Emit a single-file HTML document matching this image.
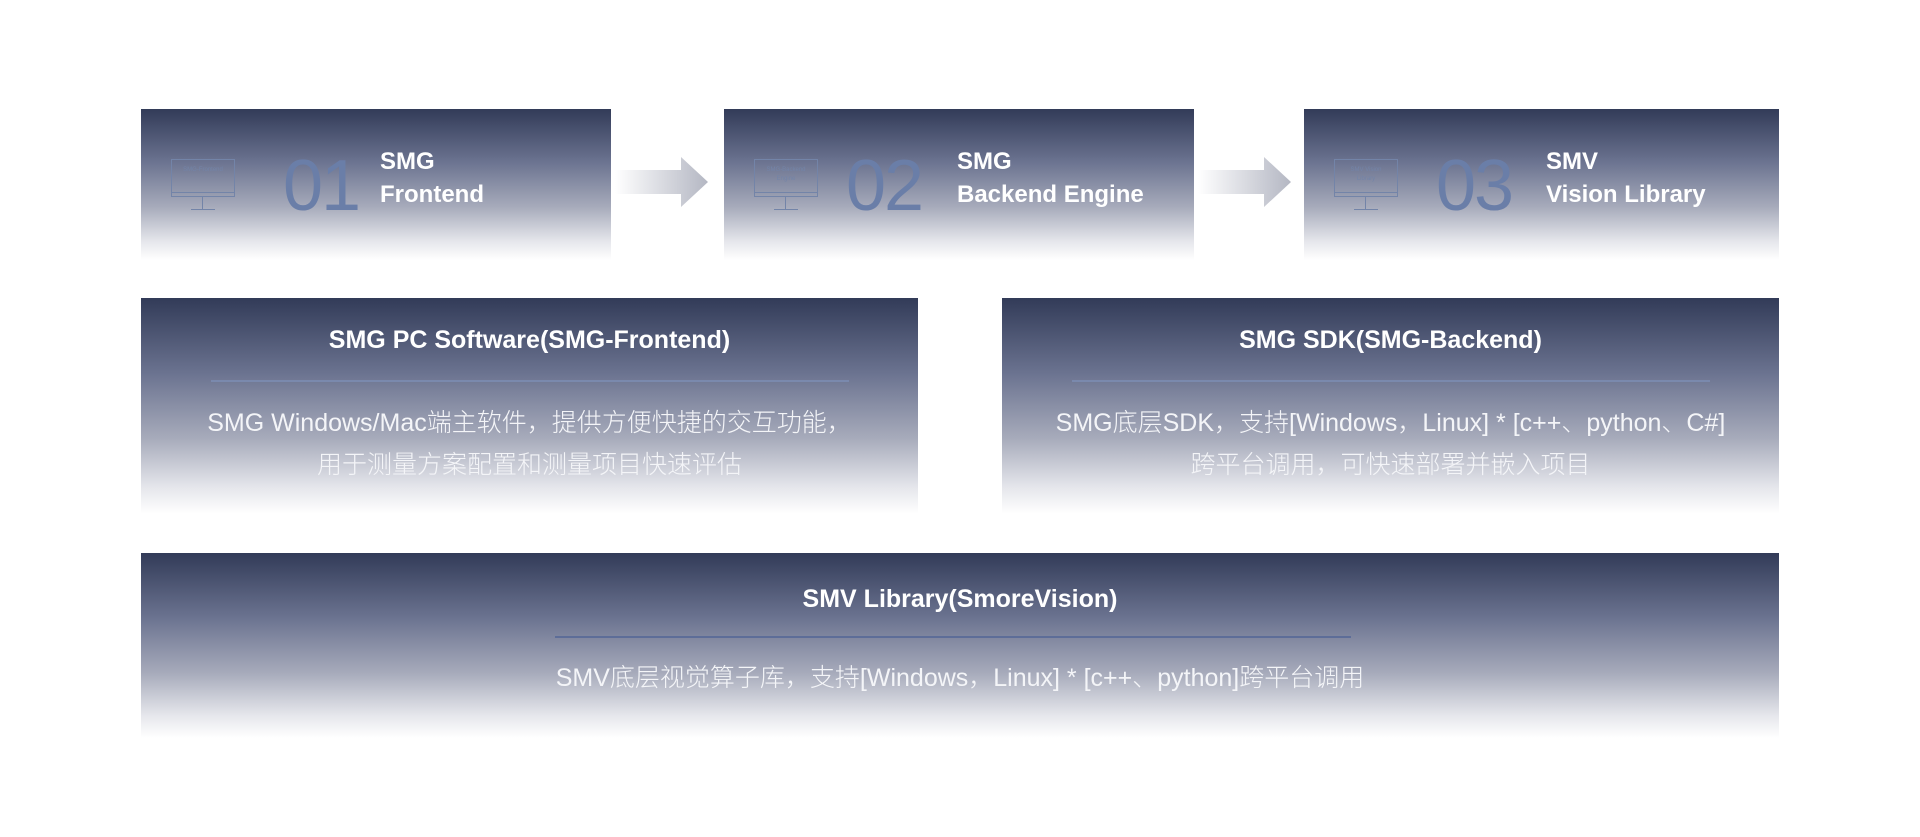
<!DOCTYPE html>
<html><head><meta charset="utf-8"><style>
body{margin:0;width:1920px;height:837px;background:#fff;position:relative;overflow:hidden;font-family:"Liberation Sans","Noto Sans CJK SC",sans-serif;}
.b{position:absolute;background:linear-gradient(to bottom,#323b58 0%,#6b7390 35%,#a7abbb 65%,#e6e7ec 88%,#ffffff 100%);color:#fff;}
.num{position:absolute;font-size:72px;color:#6a7ea8;top:36px;letter-spacing:-2px;font-family:"Liberation Sans",sans-serif;}
.t{position:absolute;font-size:24px;line-height:33px;top:36px;font-weight:600;}
.mon{position:absolute;left:30px;top:50px;width:64px;height:38px;border:1.5px solid #7384a8;font-size:6px;color:#7384a8;text-align:center;line-height:9px;padding-top:6px;box-sizing:border-box;}
.mon:after{content:"";position:absolute;left:-1px;right:-1px;bottom:3px;border-top:1.5px solid #7384a8;}
.st{position:absolute;left:30px;top:88px;width:64px;height:14px;}
.st:before{content:"";position:absolute;left:31px;top:0;height:12px;border-left:1.5px solid #7384a8;}
.st:after{content:"";position:absolute;left:20px;top:12px;width:24px;border-top:1.5px solid #7384a8;}
.arr{position:absolute;top:157px;width:93px;height:50px;}
.h{position:absolute;left:0;right:0;text-align:center;font-size:25px;font-weight:600;}
.ln{position:absolute;height:2px;background:#7a89ad;z-index:2;}
.p{position:absolute;left:0;right:0;text-align:center;font-size:25px;line-height:42px;font-weight:300;color:#f4f5f8;}
</style></head><body>
<div class="b" style="left:141px;top:109px;width:470px;height:151px">
<div class="mon">SMG-Frontend</div><div class="st"></div>
<div class="num" style="left:142px">01</div><div class="t" style="left:239px">SMG<br>Frontend</div></div>
<div class="b" style="left:724px;top:109px;width:470px;height:151px">
<div class="mon">SMG-Backend<br>Engine</div><div class="st"></div>
<div class="num" style="left:122px">02</div><div class="t" style="left:233px">SMG<br>Backend Engine</div></div>
<div class="b" style="left:1304px;top:109px;width:475px;height:151px">
<div class="mon">SMV Vision<br>Library</div><div class="st"></div>
<div class="num" style="left:132px">03</div><div class="t" style="left:242px">SMV<br>Vision Library</div></div>
<svg class="arr" style="left:615px" viewBox="0 0 93 50"><defs><linearGradient id="g" x1="0" x2="1"><stop offset="0" stop-color="#fff"/><stop offset="1" stop-color="#b4b7c3"/></linearGradient></defs><polygon points="0,13 66,13 66,0 93,25 66,50 66,37 0,37" fill="url(#g)"/></svg>
<svg class="arr" style="left:1198px" viewBox="0 0 93 50"><polygon points="0,13 66,13 66,0 93,25 66,50 66,37 0,37" fill="url(#g)"/></svg>
<div class="b" style="left:141px;top:298px;width:777px;height:216px">
<div class="h" style="top:28px">SMG PC Software(SMG-Frontend)</div>
<div class="ln" style="left:70px;width:638px;top:82px"></div>
<div class="p" style="top:104px">SMG Windows/Mac端主软件，提供方便快捷的交互功能，<br>用于测量方案配置和测量项目快速评估</div></div>
<div class="b" style="left:1002px;top:298px;width:777px;height:216px">
<div class="h" style="top:28px">SMG SDK(SMG-Backend)</div>
<div class="ln" style="left:70px;width:638px;top:82px"></div>
<div class="p" style="top:104px">SMG底层SDK，支持[Windows，Linux] * [c++、python、C#]<br>跨平台调用，可快速部署并嵌入项目</div></div>
<div class="b" style="left:141px;top:553px;width:1638px;height:185px">
<div class="h" style="top:32px">SMV Library(SmoreVision)</div>
<div class="ln" style="left:414px;width:796px;top:83px;background:#5d6d98"></div>
<div class="p" style="top:104px">SMV底层视觉算子库，支持[Windows，Linux] * [c++、python]跨平台调用</div></div>
</body></html>
